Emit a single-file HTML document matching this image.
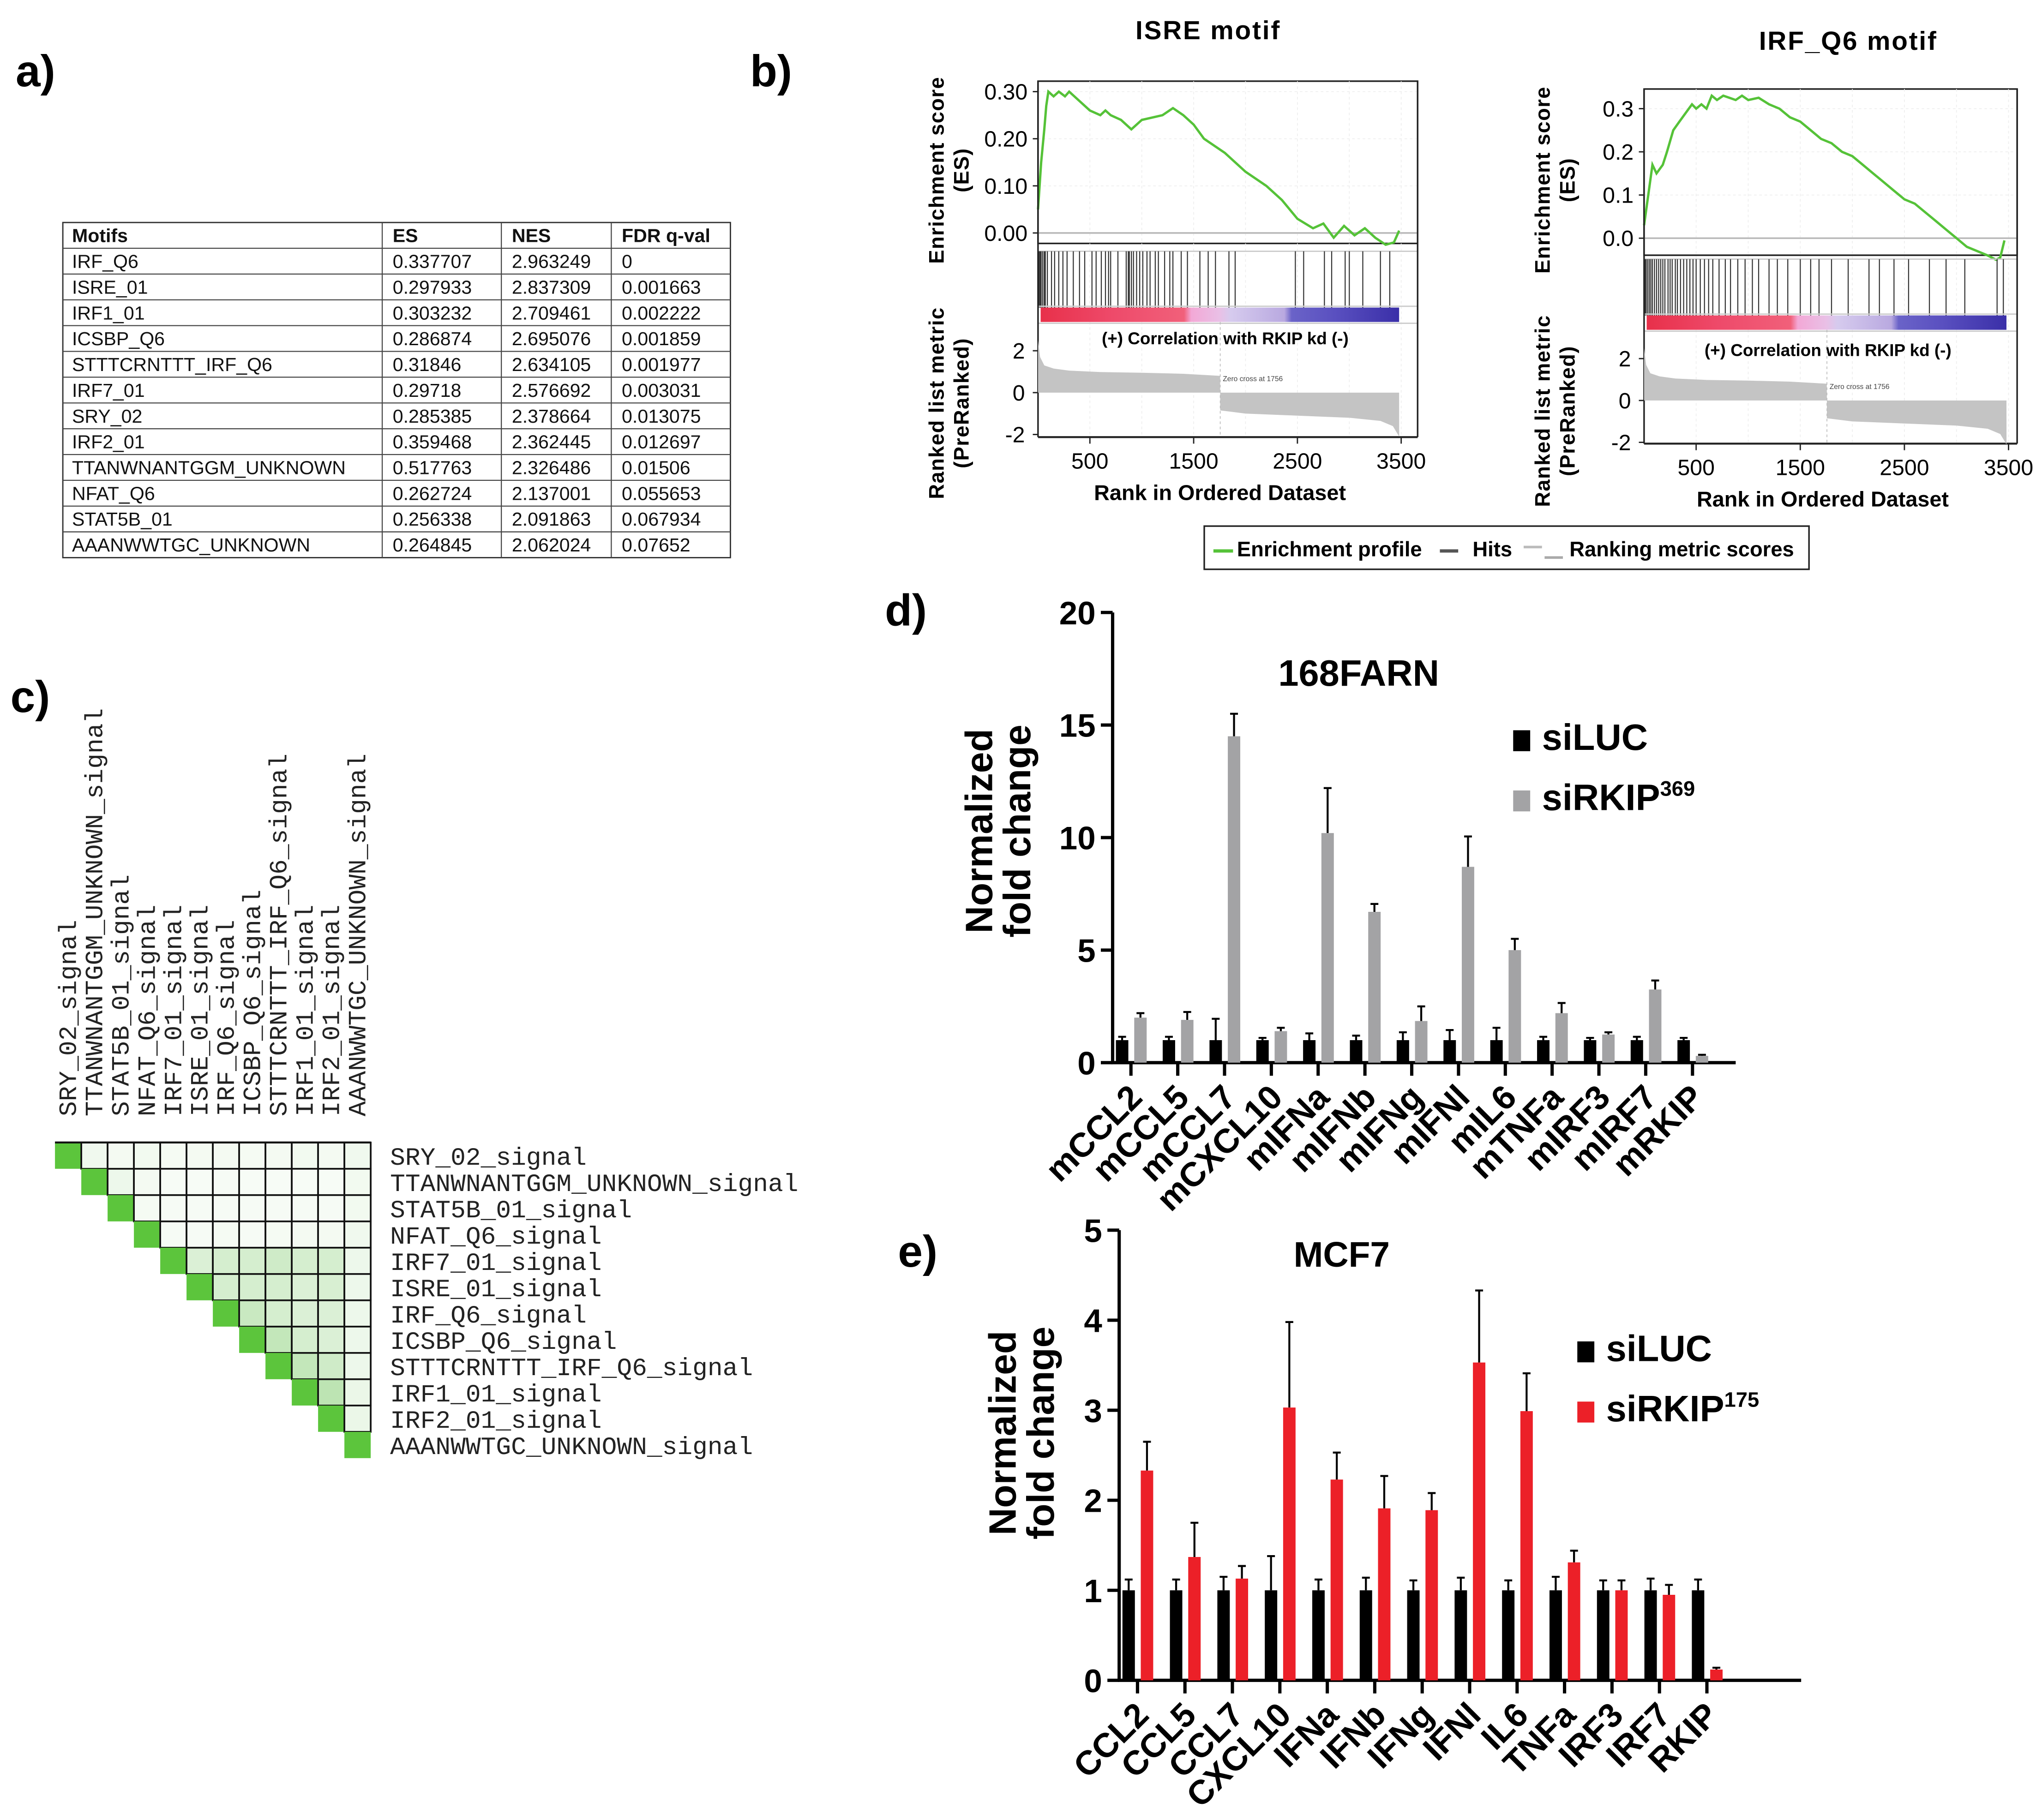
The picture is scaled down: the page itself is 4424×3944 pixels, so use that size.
<!DOCTYPE html>
<html><head><meta charset="utf-8"><style>
html,body{margin:0;padding:0;background:#fff;}
svg{display:block;}
text{font-family:"Liberation Sans",sans-serif;}
.mono{font-family:"Liberation Mono",monospace;}
</style></head><body>
<svg id="fig" xmlns="http://www.w3.org/2000/svg" width="4424" height="3944" viewBox="0 0 1560 1390.7">
<rect x="0" y="0" width="1560" height="1391" fill="#fff"/>
<g font-weight="bold" font-size="34">
<text x="12" y="66">a)</text>
<text x="573" y="66">b)</text>
<text x="8" y="544">c)</text>
<text x="676" y="478">d)</text>
<text x="686" y="968">e)</text>
</g>
<g id="tableA"></g>
<g id="heat"></g>
<g id="gsea"></g>
<g id="barD"></g>
<g id="barE"></g>
</svg>
<script>
const NS="http://www.w3.org/2000/svg";
function mk(parent,tag,attrs,txt){const e=document.createElementNS(NS,tag);for(const k in attrs)e.setAttribute(k,attrs[k]);if(txt!==undefined)e.textContent=txt;parent.appendChild(e);return e;}

// ---------- Table data ----------
const tableHeader=["Motifs","ES","NES","FDR q-val"];
const tableMotifs=["IRF_Q6","ISRE_01","IRF1_01","ICSBP_Q6","STTTCRNTTT_IRF_Q6","IRF7_01","SRY_02","IRF2_01","TTANWNANTGGM_UNKNOWN","NFAT_Q6","STAT5B_01","AAANWWTGC_UNKNOWN"];
const tableES=["0.337707","0.297933","0.303232","0.286874","0.31846","0.29718","0.285385","0.359468","0.517763","0.262724","0.256338","0.264845"];
const tableNES=["2.963249","2.837309","2.709461","2.695076","2.634105","2.576692","2.378664","2.362445","2.326486","2.137001","2.091863","2.062024"];
const tableFDR=["0","0.001663","0.002222","0.001859","0.001977","0.003031","0.013075","0.012697","0.01506","0.055653","0.067934","0.07652"];

// ---------- Heatmap data ----------
const heatLabels=["SRY_02_signal","TTANWNANTGGM_UNKNOWN_signal","STAT5B_01_signal","NFAT_Q6_signal","IRF7_01_signal","ISRE_01_signal","IRF_Q6_signal","ICSBP_Q6_signal","STTTCRNTTT_IRF_Q6_signal","IRF1_01_signal","IRF2_01_signal","AAANWWTGC_UNKNOWN_signal"];
const heatCorr=[
[1,.08,.05,.06,.04,.05,.05,.04,.05,.06,.05,.08],
[0,1,.1,.05,.02,.02,.03,.02,.02,.02,.02,.06],
[0,0,1,.04,.03,.03,.03,.03,.03,.03,.03,.06],
[0,0,0,1,.03,.03,.04,.03,.04,.05,.05,.08],
[0,0,0,0,1,.25,.3,.3,.35,.3,.3,.1],
[0,0,0,0,0,1,.3,.3,.3,.25,.28,.1],
[0,0,0,0,0,0,1,.4,.3,.25,.25,.1],
[0,0,0,0,0,0,0,1,.45,.3,.25,.1],
[0,0,0,0,0,0,0,0,1,.45,.35,.1],
[0,0,0,0,0,0,0,0,0,1,.5,.12],
[0,0,0,0,0,0,0,0,0,0,1,.12],
[0,0,0,0,0,0,0,0,0,0,0,1]];

// ---------- GSEA data ----------
const esRanksISRE=[0,30,60,80,100,150,200,260,300,400,500,600,650,700,800,900,1000,1100,1200,1300,1400,1500,1600,1800,2000,2200,2350,2500,2650,2750,2850,2950,3050,3150,3250,3350,3430,3480];
const esValsISRE=[0.05,0.15,0.22,0.27,0.30,0.29,0.30,0.29,0.30,0.28,0.26,0.25,0.26,0.25,0.24,0.22,0.24,0.245,0.25,0.265,0.25,0.23,0.20,0.17,0.13,0.10,0.07,0.03,0.01,0.02,-0.01,0.015,-0.005,0.01,-0.01,-0.025,-0.02,0.005];
const hitsISRE=[10,20,30,45,60,70,90,130,160,200,240,280,340,400,450,520,560,610,650,680,700,770,850,870,880,900,920,950,980,1010,1050,1080,1130,1160,1220,1270,1300,1380,1440,1560,1640,1710,1840,1900,2480,2560,2760,2830,2960,3000,3130,3300,3390];
const esRanksIRF=[0,40,80,120,180,220,280,340,400,460,500,550,600,650,700,760,820,880,940,1000,1100,1200,1300,1400,1500,1600,1700,1800,1900,2000,2100,2200,2300,2400,2500,2600,2700,2800,2900,3000,3100,3200,3300,3380,3420,3460];
const esValsIRF=[0.03,0.1,0.17,0.15,0.17,0.2,0.25,0.27,0.29,0.31,0.30,0.31,0.30,0.33,0.32,0.33,0.325,0.32,0.33,0.32,0.325,0.31,0.3,0.28,0.27,0.25,0.23,0.22,0.20,0.19,0.17,0.15,0.13,0.11,0.09,0.08,0.06,0.04,0.02,0.0,-0.02,-0.03,-0.04,-0.05,-0.045,-0.005];
const hitsIRF=[10,20,35,50,65,80,100,120,140,160,180,200,230,250,270,300,320,350,380,410,440,470,500,540,580,620,660,720,780,830,900,970,1040,1100,1200,1280,1380,1500,1600,1680,1800,1960,2160,2260,2400,2540,2740,2900,3080,3390,3450];
const metricRanks=[0,20,60,150,300,600,1000,1400,1755,1756,2000,2500,3000,3300,3420,3480];
const metricVals=[2.5,1.7,1.3,1.15,1.05,0.98,0.95,0.9,0.8,-0.85,-1.0,-1.1,-1.2,-1.35,-1.6,-2.1];

// ---------- Bar chart data ----------
const catsD=["mCCL2","mCCL5","mCCL7","mCXCL10","mIFNa","mIFNb","mIFNg","mIFNl","mIL6","mTNFa","mIRF3","mIRF7","mRKIP"];
const dLuc=[1,1,1,1,1,1,1,1,1,1,1,1,1];
const dLucErr=[0.15,0.15,0.95,0.1,0.3,0.2,0.35,0.45,0.55,0.15,0.1,0.15,0.1];
const dKd=[2.0,1.9,14.5,1.4,10.2,6.7,1.85,8.7,5.0,2.2,1.25,3.25,0.3];
const dKdErr=[0.2,0.35,1.0,0.15,2.0,0.35,0.65,1.35,0.5,0.45,0.1,0.4,0.05];
const dTicks=[0,5,10,15,20];
const catsE=["CCL2","CCL5","CCL7","CXCL10","IFNa","IFNb","IFNg","IFNl","IL6","TNFa","IRF3","IRF7","RKIP"];
const eLuc=[1,1,1,1,1,1,1,1,1,1,1,1,1];
const eLucErr=[0.12,0.12,0.15,0.38,0.12,0.14,0.11,0.14,0.11,0.15,0.11,0.13,0.12];
const eKd=[2.33,1.37,1.13,3.03,2.23,1.91,1.89,3.53,2.99,1.31,1.0,0.95,0.12];
const eKdErr=[0.32,0.38,0.14,0.95,0.3,0.36,0.19,0.8,0.42,0.13,0.11,0.11,0.02];
const eTicks=[0,1,2,3,4,5];

// ---------- Table ----------
(function(){
 const g=document.getElementById('tableA');
 const cols=[48,292,383,467,558], y0=170, rh=19.7, n=tableMotifs.length+1;
 mk(g,'rect',{x:cols[0],y:y0,width:cols[4]-cols[0],height:rh*n,fill:'none',stroke:'#333','stroke-width':1});
 for(let r=1;r<n;r++) mk(g,'line',{x1:cols[0],x2:cols[4],y1:y0+r*rh,y2:y0+r*rh,stroke:'#444','stroke-width':0.8});
 for(let c=1;c<4;c++) mk(g,'line',{x1:cols[c],x2:cols[c],y1:y0,y2:y0+rh*n,stroke:'#444','stroke-width':0.8});
 const rows=[tableHeader];
 for(let i=0;i<tableMotifs.length;i++) rows.push([tableMotifs[i],tableES[i],tableNES[i],tableFDR[i]]);
 rows.forEach((row,r)=>{
  row.forEach((t,c)=>{
   const e=mk(g,'text',{x:cols[c]+(c===0?7:8),y:y0+r*rh+15,'font-size':14.5,'font-weight':r===0?'bold':'normal',fill:'#111'},t);
   
   
  });
 });
})();

// ---------- Heatmap ----------
(function(){
 const g=document.getElementById('heat');
 const x0=42,y0=873,s=20.1,n=heatLabels.length;
 for(let i=0;i<n;i++){
  for(let j=i;j<n;j++){
   const v=heatCorr[i][j];
   let fill;
   if(i===j) fill='#5cc53c';
   else {const a=Math.min(1,v*0.9+0.04); const r=Math.round(255-a*(255-120)),gg=Math.round(255-a*(255-200)),b=Math.round(255-a*(255-100)); fill=`rgb(${r},${gg},${b})`;}
   const c=mk(g,'rect',{x:x0+j*s,y:y0+i*s,width:s,height:s,fill:fill,stroke:i===j?'none':'#111','stroke-width':i===j?0:1.3});
   
   
  }
  const t=mk(g,'text',{x:298,y:y0+i*s+17,'font-size':19,class:'mono',fill:'#222',textLength:heatLabels[i].length*11.55,lengthAdjust:'spacingAndGlyphs'},heatLabels[i]);
  
  
  const cx=x0+i*s+s/2+6;
  const tc=mk(g,'text',{x:0,y:0,'font-size':19,class:'mono',fill:'#222',transform:`translate(${cx},853) rotate(-90)`,textLength:heatLabels[i].length*11.55,lengthAdjust:'spacingAndGlyphs'},heatLabels[i]);
  
  
 }
 mk(g,'line',{x1:x0,x2:x0+n*s,y1:y0,y2:y0,stroke:'#111','stroke-width':1.5});
})();

// ---------- GSEA ----------
function gsea(cfg){
 const g=mk(document.getElementById('gsea'),'g',{});
 
 
 const X=r=>cfg.x0+r*(cfg.x1-cfg.x0)/3500*0.998;
 const Yes=v=>cfg.es0+(cfg.es3-cfg.es0)*v/0.3;
 const Ym=v=>cfg.m0+(cfg.m2-cfg.m0)*v/2;
 const L=cfg.x0, R=cfg.box1;
 const tt=mk(g,'text',{x:cfg.tx,y:cfg.ty,'font-size':20,'font-weight':'bold','text-anchor':'middle','letter-spacing':'1'},cfg.title);
 
 
 mk(g,'rect',{x:L,y:cfg.top,width:R-L,height:cfg.esBottom-cfg.top,fill:'#fff',stroke:'#222','stroke-width':1.2});
 for(let k=0;k<=7;k++){const gx=X(k*500);mk(g,'line',{x1:gx,x2:gx,y1:cfg.top,y2:cfg.mBottom,stroke:'#eee','stroke-width':0.6,'stroke-dasharray':'2,2'});}
 cfg.esTicks.forEach(v=>{const y=Yes(v);mk(g,'line',{x1:L,x2:R,y1:y,y2:y,stroke:'#eee','stroke-width':0.6,'stroke-dasharray':'2,2'});
  mk(g,'line',{x1:L-4,x2:L,y1:y,y2:y,stroke:'#222'});
  const t=mk(g,'text',{x:L-8,y:y+6,'font-size':17,'text-anchor':'end'},v.toFixed(cfg.esDec));});
 mk(g,'line',{x1:L,x2:R,y1:Yes(0),y2:Yes(0),stroke:'#bbb','stroke-width':1.3});
 let d='';cfg.esR.forEach((r,i)=>{d+=(i?'L':'M')+X(r).toFixed(1)+','+Yes(cfg.esV[i]).toFixed(1);});
 const p=mk(g,'path',{d:d,fill:'none',stroke:'#55c238','stroke-width':1.8});
 
 mk(g,'line',{x1:L,x2:R,y1:cfg.hitTop,y2:cfg.hitTop,stroke:'#ccc','stroke-width':1});
 cfg.hits.forEach(h=>{const l=mk(g,'line',{x1:X(h),x2:X(h),y1:cfg.hitTop,y2:cfg.barTop,stroke:'#333','stroke-width':0.8});});
 const gid='grad'+cfg.id;
 const defs=mk(g,'defs',{});const lg=mk(defs,'linearGradient',{id:gid,x1:0,x2:1,y1:0,y2:0});
 [['0','#e8304a'],['0.2','#ee4a6a'],['0.4','#f1607a'],['0.42','#f3a8d6'],['0.5','#e9c0e6'],['0.53','#d6cbee'],['0.68','#b9a9e0'],['0.7','#6a63c8'],['0.82','#5a50c0'],['1','#3a2fa8']].forEach(s=>mk(lg,'stop',{offset:s[0],'stop-color':s[1]}));
 const cb=mk(g,'rect',{x:L+2,y:cfg.barTop,width:X(3480)-L-2,height:cfg.barH,fill:`url(#${gid})`});
 
 mk(g,'line',{x1:L,x2:R,y1:cfg.barTop-1,y2:cfg.barTop-1,stroke:'#ccc'});
 mk(g,'line',{x1:L,x2:R,y1:cfg.barTop+cfg.barH+1,y2:cfg.barTop+cfg.barH+1,stroke:'#ccc'});
 const cl=mk(g,'text',{x:(L+R)/2-2,y:cfg.corrY,'font-size':13,'font-weight':'bold','text-anchor':'middle'},'(+) Correlation with RKIP kd (-)');
 
 mk(g,'line',{x1:L,x2:L,y1:cfg.top,y2:cfg.mBottom,stroke:'#222','stroke-width':1.2});
 mk(g,'line',{x1:R,x2:R,y1:cfg.top,y2:cfg.mBottom,stroke:'#222','stroke-width':1.2});
 mk(g,'line',{x1:L,x2:R,y1:cfg.mBottom,y2:cfg.mBottom,stroke:'#222','stroke-width':1.5});
 let md='M'+X(0)+','+Ym(0);metricRanks.forEach((r,i)=>{md+='L'+X(r).toFixed(1)+','+Ym(metricVals[i]).toFixed(1);});md+='L'+X(3480)+','+Ym(0)+'Z';
 const mp=mk(g,'path',{d:md,fill:'#c4c4c4',stroke:'none'});
 
 mk(g,'line',{x1:X(1756),x2:X(1756),y1:cfg.barTop+cfg.barH,y2:cfg.mBottom,stroke:'#bbb','stroke-width':0.6,'stroke-dasharray':'2,2'});
 mk(g,'text',{x:X(1756)+2,y:Ym(0.55),'font-size':5.5,fill:'#444'},'Zero cross at 1756');
 [2,0,-2].forEach(v=>{const y=Ym(v);mk(g,'line',{x1:L-4,x2:L,y1:y,y2:y,stroke:'#222'});
  const t=mk(g,'text',{x:L-10,y:y+6,'font-size':17,'text-anchor':'end'},String(v));});
 [500,1500,2500,3500].forEach(v=>{const x=X(v);mk(g,'line',{x1:x,x2:x,y1:cfg.mBottom,y2:cfg.mBottom+5,stroke:'#222'});
  const t=mk(g,'text',{x:x,y:cfg.mBottom+24,'font-size':17,'text-anchor':'middle'},String(v));});
 const xt=mk(g,'text',{x:(L+R)/2-6,y:cfg.mBottom+48,'font-size':16.5,'font-weight':'bold','text-anchor':'middle'},'Rank in Ordered Dataset');
 
 const ya=mk(g,'text',{x:0,y:0,'font-size':16,'font-weight':'bold','text-anchor':'middle','letter-spacing':'0.5',transform:`translate(${L-72},${(cfg.top+cfg.esBottom)/2+6}) rotate(-90)`});
 
 mk(ya,'tspan',{x:0,dy:0},'Enrichment score');mk(ya,'tspan',{x:0,dy:19},'(ES)');
 const yb=mk(g,'text',{x:0,y:0,'font-size':16,'font-weight':'bold','text-anchor':'middle','letter-spacing':'0.5',transform:`translate(${L-72},${cfg.m0+8}) rotate(-90)`});
 
 mk(yb,'tspan',{x:0,dy:0},'Ranked list metric');mk(yb,'tspan',{x:0,dy:19},'(PreRanked)');
}
gsea({id:'a',name:'gsea-isre',title:'ISRE motif',tx:923,ty:30,x0:793,x1:1071,box1:1083,top:62,esBottom:186,es0:178,es3:70,esTicks:[0,0.1,0.2,0.3],esDec:2,hitTop:192,barTop:235,barH:11,corrY:263,m0:300,m2:268,mBottom:334,esR:esRanksISRE,esV:esValsISRE,hits:hitsISRE});
gsea({id:'b',name:'gsea-irf-q6',title:'IRF_Q6 motif',tx:1412,ty:38,x0:1256,x1:1535,box1:1541,top:68,esBottom:195,es0:182,es3:83,esTicks:[0,0.1,0.2,0.3],esDec:1,hitTop:198,barTop:241,barH:11,corrY:272,m0:306,m2:274,mBottom:339,esR:esRanksIRF,esV:esValsIRF,hits:hitsIRF});
(function(){
 const g=mk(document.getElementById('gsea'),'g',{});
 
 mk(g,'rect',{x:920,y:402,width:462,height:33,fill:'#fff',stroke:'#222','stroke-width':1.2});
 mk(g,'line',{x1:927,x2:942,y1:421,y2:421,stroke:'#55c238','stroke-width':2.5});
 mk(g,'text',{x:945,y:425,'font-size':16,'font-weight':'bold'},'Enrichment profile');
 mk(g,'line',{x1:1100,x2:1114,y1:421,y2:421,stroke:'#555','stroke-width':2.5});
 mk(g,'text',{x:1125,y:425,'font-size':16,'font-weight':'bold'},'Hits');
 mk(g,'line',{x1:1164,x2:1178,y1:418,y2:418,stroke:'#bbb','stroke-width':2});
 mk(g,'line',{x1:1180,x2:1194,y1:426,y2:426,stroke:'#aaa','stroke-width':2});
 mk(g,'text',{x:1199,y:425,'font-size':16,'font-weight':'bold'},'Ranking metric scores');
})();

// ---------- Bar charts ----------
function bars(cfg){
 const g=document.getElementById(cfg.gid);
 const Y=v=>cfg.y0+(cfg.yTop-cfg.y0)*v/cfg.max;
 const T=i=>cfg.t0+i*cfg.dt;
 const t=mk(g,'text',{x:cfg.titleX,y:cfg.titleY,'font-size':cfg.titleSize,'font-weight':'bold','text-anchor':'middle'},cfg.title);
 
 mk(g,'line',{x1:cfg.ax,x2:cfg.ax,y1:cfg.yTop,y2:cfg.y0,stroke:'#000','stroke-width':2.5});
 mk(g,'line',{x1:cfg.ax-1,x2:cfg.axEnd,y1:cfg.y0,y2:cfg.y0,stroke:'#000','stroke-width':2.5});
 cfg.ticks.forEach(v=>{const y=Y(v);mk(g,'line',{x1:cfg.ax-9,x2:cfg.ax,y1:y,y2:y,stroke:'#000','stroke-width':2.5});
  const l=mk(g,'text',{x:cfg.ax-13,y:y+9,'font-size':25,'font-weight':'bold','text-anchor':'end'},String(v));
  });
 const w=9.5;
 cfg.cats.forEach((c,i)=>{
  const tx=T(i);
  mk(g,'line',{x1:tx,x2:tx,y1:cfg.y0,y2:cfg.y0+10,stroke:'#000','stroke-width':2.5});
  const vals=[[cfg.a[i],cfg.ae[i],tx-11.5,'#000','bar-siluc'],[cfg.b[i],cfg.be[i],tx+2.5,cfg.color,'bar-sirkip']];
  vals.forEach(v=>{
   const ex=v[2]+w/2;
   mk(g,'line',{x1:ex,x2:ex,y1:Y(v[0]),y2:Y(v[0]+v[1]),stroke:'#000','stroke-width':1.5});
   mk(g,'line',{x1:ex-3,x2:ex+3,y1:Y(v[0]+v[1]),y2:Y(v[0]+v[1]),stroke:'#000','stroke-width':1.5});
   const r=mk(g,'rect',{x:v[2],y:Y(v[0]),width:w,height:cfg.y0-Y(v[0]),fill:v[3]});
   
  });
  const l=mk(g,'text',{x:0,y:0,'font-size':26,'font-weight':'bold','text-anchor':'end',transform:`translate(${tx+10},${cfg.y0+28}) rotate(-45)`},c);
  
 });
 const yl=mk(g,'text',{x:0,y:0,'font-size':29,'font-weight':'bold','text-anchor':'middle',transform:`translate(${cfg.ylx},${cfg.yly}) rotate(-90)`});
 
 mk(yl,'tspan',{x:0,dy:0},'Normalized');mk(yl,'tspan',{x:0,dy:29},'fold change');
 const lg=mk(g,'g',{});
 mk(lg,'rect',{x:cfg.lx,y:cfg.ly-15,width:13,height:16,fill:'#000'});
 mk(lg,'text',{x:cfg.lx+22,y:cfg.ly,'font-size':28,'font-weight':'bold'},'siLUC');
 mk(lg,'rect',{x:cfg.lx,y:cfg.ly+31,width:13,height:16,fill:cfg.color});
 const t2=mk(lg,'text',{x:cfg.lx+22,y:cfg.ly+46,'font-size':28,'font-weight':'bold'},cfg.kdName);
 mk(t2,'tspan',{'font-size':16,dy:-11},cfg.kdSup);
}
bars({gid:'barD',title:'168FARN',titleX:1038,titleY:524,titleSize:28,ax:850,axEnd:1326,y0:812,yTop:468,max:20,ticks:dTicks,t0:864,dt:35.75,cats:catsD,a:dLuc,ae:dLucErr,b:dKd,be:dKdErr,color:'#a3a3a5',ylx:758,yly:635,lx:1156,ly:573,kdName:'siRKIP',kdSup:'369'});
bars({gid:'barE',title:'MCF7',titleX:1025,titleY:968,titleSize:27,ax:855,axEnd:1376,y0:1284,yTop:940,max:5,ticks:eTicks,t0:869,dt:36.25,cats:catsE,a:eLuc,ae:eLucErr,b:eKd,be:eKdErr,color:'#ec2028',ylx:776,yly:1095,lx:1205,ly:1040,kdName:'siRKIP',kdSup:'175'});
</script>
</body></html>
